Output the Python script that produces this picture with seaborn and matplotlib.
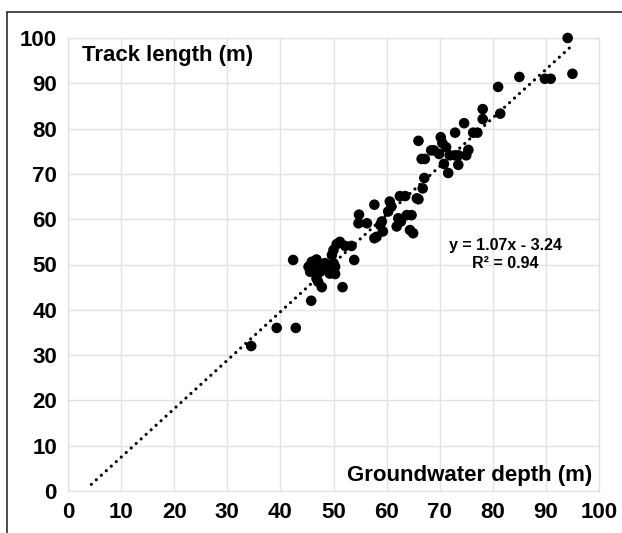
import matplotlib
matplotlib.use("Agg")
import matplotlib.pyplot as plt
from matplotlib.lines import Line2D
import numpy as np
import pandas as pd
import seaborn as sns

# ---- data ----
groundwater_depth = [
    34.5, 39.3, 42.9, 45.8, 42.4, 47.8, 51.7, 53.9,
    45.9, 46.8, 45.3, 45.6, 47.1, 47.5, 48.4, 48.7, 50.0, 50.3, 49.3, 50.3,
    46.8, 47.1, 49.7, 50.0, 50.6, 51.2, 52.2, 53.4,
    54.8, 54.7, 56.3, 57.7, 59.1, 58.8, 59.3, 58.1, 57.7, 60.6, 60.9, 60.3,
    62.5, 63.5, 62.2, 62.7, 63.8, 64.7, 61.9, 64.4, 65.0, 65.7,
    66.0, 66.8, 67.1, 66.6, 67.2, 66.0, 68.4, 68.9, 69.9, 70.2, 70.5, 71.2,
    70.8, 71.6, 71.9, 72.9, 73.5, 73.5, 72.9, 74.6, 75.4, 75.0, 76.3, 77.1,
    78.1, 78.1, 81.0, 81.4, 85.0, 89.8, 90.9, 95.0, 94.1,
]
track_length = [
    32.0, 36.0, 36.0, 42.0, 51.0, 45.0, 45.0, 51.0,
    50.6, 51.1, 49.5, 48.4, 49.5, 48.4, 50.3, 49.2, 50.3, 49.5, 48.0, 47.9,
    46.9, 46.2, 52.1, 53.2, 54.5, 55.0, 54.1, 54.1,
    61.0, 59.1, 59.1, 63.2, 59.5, 58.7, 57.3, 56.1, 55.8, 63.9, 62.8, 61.7,
    65.1, 65.1, 60.2, 59.5, 60.9, 60.9, 58.4, 57.6, 56.9, 64.6,
    64.4, 66.8, 69.1, 73.3, 73.3, 77.3, 75.2, 75.2, 74.4, 78.1, 76.8, 75.9,
    72.2, 70.2, 74.1, 74.1, 74.1, 72.0, 79.1, 81.2, 75.3, 74.1, 79.1, 79.1,
    84.3, 82.1, 89.2, 83.3, 91.4, 91.0, 91.0, 92.1, 100.0,
]
trend_slope = 1.07
trend_intercept = -3.24
trend_range = [4.4, 94.7]
r_squared = 0.94
tick_values = [0, 10, 20, 30, 40, 50, 60, 70, 80, 90, 100]
x_title = "Groundwater depth (m)"
y_title = "Track length (m)"

df = pd.DataFrame({"depth": groundwater_depth, "length": track_length})
trend_x = np.array(trend_range)
trend_df = pd.DataFrame({"x": trend_x, "y": trend_slope * trend_x + trend_intercept})

# ---- figure ----
sns.set_theme(style="white")
plt.rcParams["font.family"] = ["Liberation Sans", "DejaVu Sans"]
plt.rcParams["font.weight"] = "bold"
plt.rcParams["text.color"] = "black"
plt.rcParams["xtick.color"] = "black"
plt.rcParams["ytick.color"] = "black"

fig = plt.figure(figsize=(6.22, 5.33), dpi=100)
ax = fig.add_axes([68 / 622, 1 - 491 / 533, 531 / 622, 453 / 533])

grid_c = "#e3e3e3"
ax.set_xlim(0, 100)
ax.set_ylim(0, 100)
ax.set_xticks(tick_values)
ax.set_yticks(tick_values)
ax.grid(True, color=grid_c, linewidth=1.0)
ax.set_axisbelow(True)
for s in ax.spines.values():
    s.set_color(grid_c)
    s.set_linewidth(1.0)
ax.tick_params(length=0, pad=8, labelsize=16, colors="black")
for lab in ax.get_xticklabels() + ax.get_yticklabels():
    lab.set_fontweight("bold")

sns.lineplot(data=trend_df, x="x", y="y", ax=ax, color="black",
             linewidth=2.3, linestyle=(0, (0.01, 2.1)), zorder=2)
ax.lines[-1].set_dash_capstyle("round")
sns.scatterplot(data=df, x="depth", y="length", ax=ax, color="black",
                s=58, edgecolor="none", linewidth=0, zorder=3, clip_on=False)

ax.set_xlabel("")
ax.set_ylabel("")

ax.text(0.026, 0.950, y_title, transform=ax.transAxes, ha="left",
        va="baseline", fontsize=16, fontweight="bold", color="black")
ax.text(0.987, 0.0214, x_title, transform=ax.transAxes, ha="right",
        va="baseline", fontsize=16, fontweight="bold", color="black")

sign = "-" if trend_intercept < 0 else "+"
ax.text(82.3, 53.2, f"y = {trend_slope:.2f}x {sign} {abs(trend_intercept):.2f}",
        ha="center", va="baseline", fontsize=11.5, fontweight="bold", color="black")
ax.text(82.3, 49.2, f"R\u00b2 = {r_squared:.2f}",
        ha="center", va="baseline", fontsize=11.5, fontweight="bold", color="black")

# outer frame (left and top edges visible)
fx = 7 / 622
fy = 1 - 12 / 533
fig.add_artist(Line2D([fx, fx], [-0.05, fy], transform=fig.transFigure,
                      color="#1a1a1a", linewidth=1.1))
fig.add_artist(Line2D([fx, 1.05], [fy, fy], transform=fig.transFigure,
                      color="#1a1a1a", linewidth=1.1))

fig.savefig("out.png", dpi=100)
